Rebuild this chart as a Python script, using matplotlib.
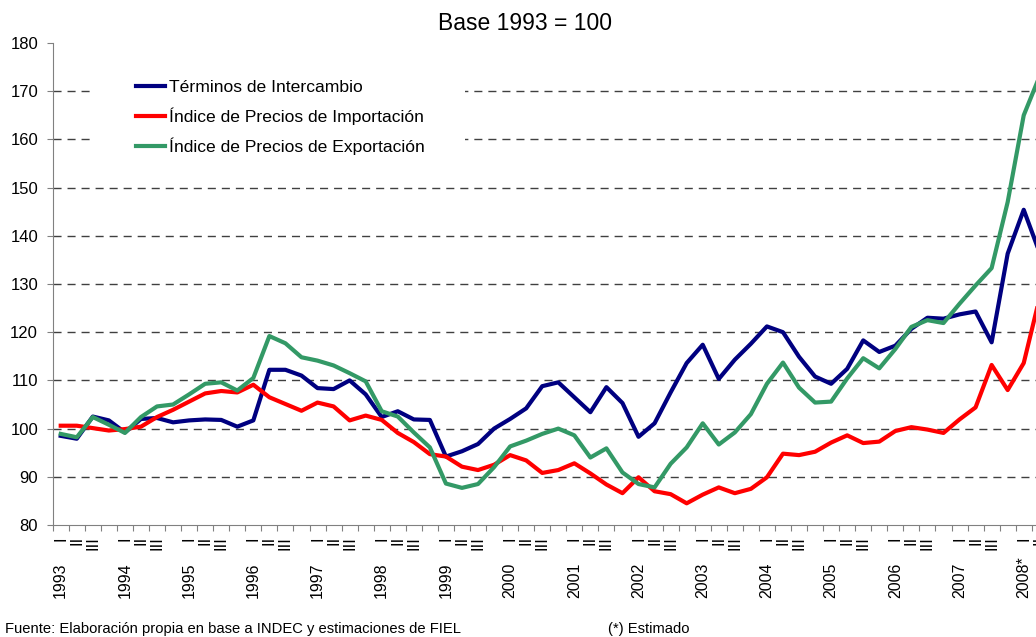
import matplotlib
matplotlib.use("Agg")
import matplotlib.pyplot as plt
import matplotlib.transforms as mtransforms
from matplotlib.patches import Rectangle
import numpy as np

plt.rcParams["font.family"] = ["Liberation Sans", "DejaVu Sans"]

# quarterly series, 1993 Q1 .. 2008 Q2 (last point falls just past the cropped edge)
year_labels = [str(y) for y in range(1993, 2008)] + ["2008*"]
quarter_labels = ["I", "II", "III"]

terminos = [98.5, 97.9, 102.5, 101.7, 99.2, 102.0, 102.2, 101.3,
            101.7, 101.9, 101.8, 100.4, 101.7, 112.2, 112.2, 111.0,
            108.4, 108.2, 110.0, 107.1, 102.4, 103.6, 101.9, 101.8,
            94.2, 95.3, 96.8, 100.0, 102.0, 104.2, 108.8, 109.6,
            106.5, 103.4, 108.6, 105.3, 98.3, 101.1, 107.5, 113.6,
            117.4, 110.3, 114.3, 117.6, 121.2, 120.0, 114.9, 110.8,
            109.3, 112.4, 118.3, 115.9, 117.2, 120.7, 123.0, 122.8,
            123.7, 124.3, 117.9, 136.3, 145.4, 136.4]
importacion = [100.6, 100.6, 100.1, 99.6, 99.9, 100.4, 102.4, 103.9,
               105.6, 107.3, 107.8, 107.5, 109.1, 106.5, 105.1, 103.7,
               105.4, 104.6, 101.7, 102.7, 101.8, 99.1, 97.2, 94.7,
               94.2, 92.1, 91.4, 92.5, 94.5, 93.4, 90.8, 91.4,
               92.8, 90.7, 88.4, 86.6, 89.9, 87.0, 86.4, 84.5,
               86.3, 87.8, 86.6, 87.5, 89.9, 94.8, 94.5, 95.2,
               97.1, 98.6, 97.0, 97.3, 99.5, 100.3, 99.8, 99.1,
               101.9, 104.4, 113.2, 108.0, 113.6, 127.3]
exportacion = [98.9, 98.2, 102.4, 100.8, 99.1, 102.4, 104.6, 105.0,
               107.1, 109.3, 109.6, 107.9, 110.5, 119.2, 117.7, 114.8,
               114.1, 113.1, 111.5, 109.8, 103.6, 102.5, 99.2, 96.1,
               88.6, 87.7, 88.5, 92.0, 96.3, 97.5, 98.9, 100.0,
               98.6, 94.0, 95.9, 90.9, 88.5, 87.8, 92.7, 96.1,
               101.1, 96.7, 99.2, 103.0, 109.3, 113.7, 108.5, 105.4,
               105.6, 110.4, 114.6, 112.5, 116.5, 121.1, 122.5, 121.9,
               125.9, 129.7, 133.3, 147.0, 165.0, 173.2]

y_ticks = list(range(80, 181, 10))
grid_vals = list(range(90, 171, 10))

W, H = 1036, 637
fig = plt.figure(figsize=(W / 100, H / 100), dpi=100)
ax = fig.add_axes([52.7 / W, 1 - 525 / H, 1 - 52.7 / W, 482 / H])

x = np.arange(len(terminos)) + 0.5
ax.plot(x, terminos, color="#000080", lw=3, label="Términos de Intercambio", zorder=3)
ax.plot(x, importacion, color="#FF0000", lw=3, label="Índice de Precios de Importación", zorder=3)
ax.plot(x, exportacion, color="#339966", lw=3, label="Índice de Precios de Exportación", zorder=3)

ax.hlines(grid_vals, 0, 70, colors="#404040", linestyles=(0, (5.8, 4.3)), lw=1, zorder=0.5)
# white box behind the legend hides the grid there
ax.add_patch(Rectangle((0.043, 0.737), 0.376, 0.23, transform=ax.transAxes,
                       facecolor="white", edgecolor="none", zorder=1))

ax.set_xlim(0, (W - 52.7) / 16.05)
ax.set_ylim(80, 180)
ax.set_yticks(y_ticks)
ax.set_xticks(np.arange(0, 62))
ax.set_xticklabels([])
ax.tick_params(axis="x", length=4, color="#808080", direction="out")
ax.tick_params(axis="y", length=4, color="#808080", direction="out", pad=6.5, labelsize=12)
for s in ["top", "right"]:
    ax.spines[s].set_visible(False)
for s in ["left", "bottom"]:
    ax.spines[s].set_color("#808080")

trans = mtransforms.blended_transform_factory(ax.transData, ax.transAxes)
for k, yl in enumerate(year_labels):
    for q, ql in enumerate(quarter_labels):
        ax.text(4 * k + q + 0.5, -11 / 482, ql, rotation=90, ha="center", va="top",
                transform=trans, fontsize=12, clip_on=False)
    ax.text(4 * k + 0.5, -73 / 482, yl, rotation=90, ha="center", va="bottom",
            transform=trans, fontsize=11.5, clip_on=False)

ax.legend(loc="upper left", bbox_to_anchor=(136 / W, 1 - 79.5 / H), bbox_transform=fig.transFigure,
          frameon=False, fontsize=12.6, handlelength=1.68, handletextpad=0.2,
          labelspacing=0.72, borderpad=0, borderaxespad=0)

fig.text(524.5 / W, 1 - 23 / H, "Base 1993 = 100", ha="center", va="center", fontsize=16.5)
fig.text(5 / W, 1 - 629 / H, "Fuente: Elaboración propia en base a INDEC y estimaciones de FIEL",
         ha="left", va="center", fontsize=10.6)
fig.text(608 / W, 1 - 629 / H, "(*) Estimado", ha="left", va="center", fontsize=10.6)

fig.savefig("out.png", dpi=100)
